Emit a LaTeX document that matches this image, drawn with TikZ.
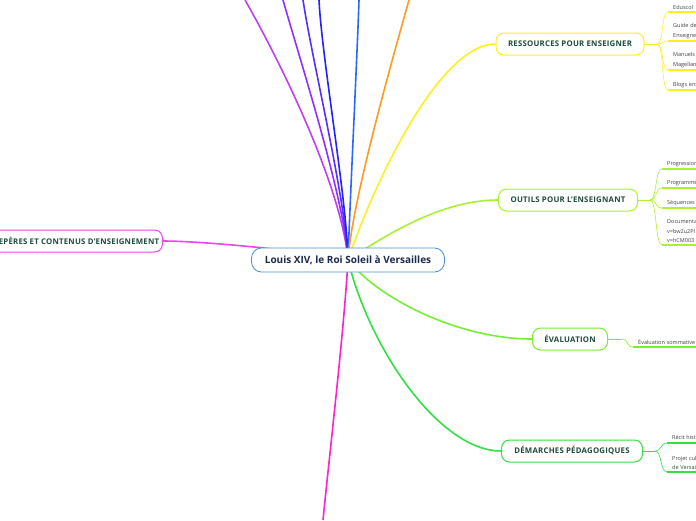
\documentclass[tikz,border=0pt]{standalone}
\usepackage{fontspec}
\setmainfont{Open Sans}
\usetikzlibrary{positioning,backgrounds}

\definecolor{rootblue}{HTML}{4A90D0}
\definecolor{rootink}{HTML}{1B2A4E}
\definecolor{branchink}{HTML}{1E4B3C}
\definecolor{leafink}{HTML}{404040}
\definecolor{resyellow}{HTML}{FFEE22}
\definecolor{outlime}{HTML}{AAF033}
\definecolor{evalgreen}{HTML}{77EE33}
\definecolor{demgreen}{HTML}{33E044}
\definecolor{repmagenta}{HTML}{EE44EE}
\definecolor{botmagenta}{HTML}{FF22C8}
\definecolor{lnpurple}{HTML}{C040F0}
\definecolor{lnviolet}{HTML}{9030FF}
\definecolor{lnindigo}{HTML}{5530FF}
\definecolor{lnblue}{HTML}{2222FF}
\definecolor{lnazure}{HTML}{2A66FF}
\definecolor{lnorange}{HTML}{FF9A22}

\begin{document}
\begin{tikzpicture}[
  x=1pt, y=-1pt,
  root/.style={draw=rootblue, line width=0.8pt, fill=white, rounded corners=10pt,
    minimum width=193pt, minimum height=24pt, text=rootink,
    font=\bfseries\fontsize{10}{12}\selectfont},
  branch/.style={draw, line width=1pt, fill=white, rounded corners=8pt,
    minimum height=22pt, text=branchink,
    font=\bfseries\fontsize{7.8}{9}\selectfont\addfontfeatures{LetterSpace=3}},
  leaf/.style={anchor=south west, inner xsep=5pt, inner ysep=2pt, text width=70pt,
    align=left, text=leafink, font=\fontsize{5.5}{9.5}\selectfont},
  trunk/.style={line width=1.6pt},
  twig/.style={line width=0.6pt},
  underl/.style={line width=1.8pt}
]
\useasboundingbox (0,0) rectangle (696,520);

% central topic and main branches
\node[root] (root) at (348,260) {Louis XIV, le Roi Soleil à Versailles};
\node[branch, draw=resyellow, minimum width=148pt] (res) at (570,44) {RESSOURCES POUR ENSEIGNER};
\node[branch, draw=outlime, minimum width=139pt] (out) at (568,200) {OUTILS POUR L'ENSEIGNANT};
\node[branch, draw=evalgreen, minimum width=75pt] (eval) at (570,339) {ÉVALUATION};
\node[branch, draw=demgreen, minimum width=141pt] (dem) at (572,451) {DÉMARCHES PÉDAGOGIQUES};
\node[branch, draw=repmagenta, anchor=east] (rep) at (163,241) {REPÈRES ET CONTENUS D'ENSEIGNEMENT};

% free ends of the branches leaving the page
\coordinate (up1) at (245,0);
\coordinate (up2) at (283,0);
\coordinate (up3) at (303,0);
\coordinate (up4) at (319,0);
\coordinate (up5) at (359,0);
\coordinate (up6) at (409,0);
\coordinate (down) at (323,520);

% junctions of the small branches
\coordinate (resj) at (657,44);
\coordinate (outj) at (650,200);
\coordinate (evalj) at (622,339);
\coordinate (demj) at (655,451);

\begin{scope}[on background layer]
  \draw[trunk, lnpurple] (root.center) .. controls (342,190) and (285,70) .. (up1);
  \draw[trunk, lnviolet] (root.center) .. controls (345,200) and (300,60) .. (up2);
  \draw[trunk, lnindigo] (root.center) .. controls (346,200) and (312,60) .. (up3);
  \draw[trunk, lnblue] (root.center) .. controls (347,200) and (322,60) .. (up4);
  \draw[trunk, lnazure] (root.center) .. controls (350,200) and (357,60) .. (up5);
  \draw[trunk, lnorange] (root.center) .. controls (352,200) and (395,50) .. (up6);
  \draw[trunk, resyellow] (root.center) .. controls (375,180) and (440,44) .. (res.west);
  \draw[trunk, outlime] (root.center) .. controls (400,225) and (450,200) .. (out.west);
  \draw[trunk, evalgreen] (root.center) .. controls (380,300) and (460,339) .. (eval.west);
  \draw[trunk, demgreen] (root.center) .. controls (370,350) and (440,451) .. (dem.west);
  \draw[trunk, botmagenta] (root.center) .. controls (344,330) and (330,450) .. (down);
  \draw[trunk, repmagenta] (root.center) .. controls (300,250) and (200,241) .. (rep.east);
\end{scope}

% leaves of RESSOURCES POUR ENSEIGNER
\draw[twig, resyellow] (res.east) -- (resj);
\foreach \n/\y/\t in {e1/12/Eduscol, e2/41/{Guide de ressources\\Enseigner}, e3/70/{Manuels\\Magellan}, e4/90/Blogs enseignants}{
  \node[leaf] (\n) at (668,\y) {\t};
  \draw[twig, resyellow] (resj) .. controls +(7,0) and +(-7,0) .. (\n.south west);
  \draw[underl, resyellow] (\n.south west) -- (\n.south east);
}

% leaves of OUTILS POUR L'ENSEIGNANT
\draw[twig, outlime] (out.east) -- (outj);
\foreach \n/\y/\t in {o1/169/Progression, o2/188/Programmes, o3/208/Séquences, o4/245/{Documentaires\\v=bw2u2Pl\\v=hCM003}}{
  \node[leaf] (\n) at (662,\y) {\t};
  \draw[twig, outlime] (outj) .. controls +(7,0) and +(-7,0) .. (\n.south west);
  \draw[underl, outlime] (\n.south west) -- (\n.south east);
}

% leaf of ÉVALUATION
\draw[twig, evalgreen] (eval.east) -- (evalj);
\node[leaf] (v1) at (633,347) {Évaluation sommative};
\draw[twig, evalgreen] (evalj) .. controls +(7,0) and +(-7,0) .. (v1.south west);
\draw[underl, evalgreen] (v1.south west) -- (v1.south east);

% leaves of DÉMARCHES PÉDAGOGIQUES
\draw[twig, demgreen] (dem.east) -- (demj);
\foreach \n/\y/\t in {d1/443/Récit historique, d2/472/{Projet culturel\\de Versailles}}{
  \node[leaf] (\n) at (667,\y) {\t};
  \draw[twig, demgreen] (demj) .. controls +(7,0) and +(-7,0) .. (\n.south west);
  \draw[underl, demgreen] (\n.south west) -- (\n.south east);
}
\end{tikzpicture}
\end{document}
